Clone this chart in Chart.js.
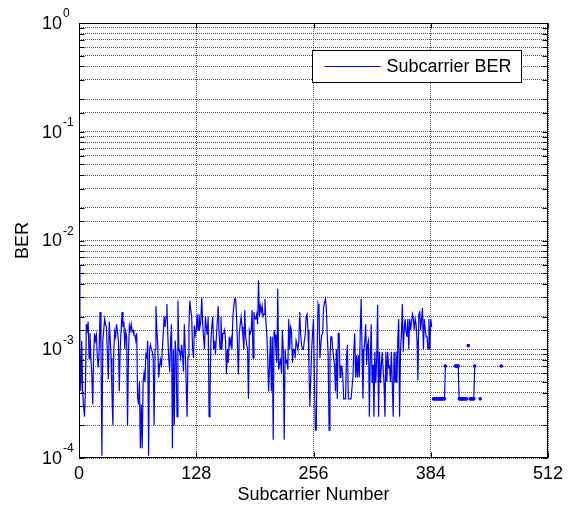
<!DOCTYPE html>
<html>
<head>
<meta charset="utf-8">
<title>Subcarrier BER</title>
<script src="https://cdn.jsdelivr.net/npm/chart.js@4.4.0/dist/chart.umd.min.js"></script>
<style>
    html, body { margin: 0; padding: 0; background: #fff; }
</style>
</head>
<body>
<canvas id="berChart" width="572" height="506"></canvas>
<script>
// x axis ticks (subcarrier index) and y axis decades
const xTicks = [0, 128, 256, 384, 512];
const yDecades = [1e-4, 1e-3, 1e-2, 1e-1, 1];
const yExponents = ['-4', '-3', '-2', '-1', '0'];
const seriesName = 'Subcarrier BER';
const xTitle = 'Subcarrier Number';
const yTitle = 'BER';

// BER per subcarrier, subcarriers 0..385
const berMain = [
    6.0e-3, 1.1e-3, 4.1e-4, 1.2e-3, 4.0e-4, 3.0e-4, 2.4e-4, 4.3e-4, 1.7e-3, 1.5e-3,
    1.8e-3, 8.3e-4, 1.4e-3, 8.0e-4, 6.0e-4, 3.1e-4, 9.0e-4, 1.4e-3, 1.2e-3, 1.35e-3,
    8.3e-4, 6.8e-4, 1.0e-3, 2.2e-3, 1.0e-3, 1.05e-4, 1.2e-3, 1.5e-3, 1.9e-3, 1.7e-3,
    1.6e-3, 9.0e-4, 5.3e-4, 1.8e-3, 1.3e-3, 8.3e-4, 4.0e-4, 2.0e-4, 1.0e-3, 1.45e-3,
    1.3e-3, 1.7e-3, 1.45e-3, 1.2e-3, 4.1e-4, 1.0e-3, 1.5e-3, 2.2e-3, 1.6e-3, 1.8e-3,
    1.0e-3, 1.45e-3, 1.3e-3, 2.0e-4, 9.0e-4, 1.65e-3, 1.5e-3, 1.7e-3, 1.45e-3, 1.5e-3,
    1.35e-3, 1.35e-3, 1.2e-3, 1.4e-3, 3.6e-4, 3.1e-4, 5.0e-4, 1.23e-4, 3.1e-4, 1.23e-4,
    5.0e-4, 6.0e-4, 5.0e-4, 9.0e-4, 8.5e-4, 1.2e-3, 1.05e-4, 1.0e-3, 1.1e-3, 1.0e-3,
    9.5e-4, 8.3e-4, 2.0e-4, 1.0e-3, 2.5e-3, 1.5e-3, 1.1e-3, 5.5e-4, 7.2e-4, 8.0e-4,
    6.8e-4, 1.0e-3, 1.4e-3, 2.0e-3, 1.6e-3, 2.0e-3, 2.6e-3, 1.3e-3, 8.0e-4, 6.2e-4,
    1.2e-3, 1.7e-3, 1.23e-4, 1.0e-3, 2.0e-4, 1.2e-3, 9.0e-4, 2.4e-4, 2.8e-3, 1.0e-3,
    9.5e-4, 8.3e-4, 1.1e-3, 9.0e-4, 6.2e-4, 1.7e-3, 1.0e-3, 5.0e-4, 2.4e-4, 8.5e-4,
    1.6e-3, 2.8e-3, 2.3e-3, 2.0e-3, 1.0e-3, 8.3e-4, 1.65e-3, 1.36e-3, 1.5e-3, 2.1e-3,
    1.5e-3, 2.1e-3, 1.6e-3, 1.8e-3, 3.0e-3, 1.7e-3, 1.3e-3, 1.0e-3, 2.0e-3, 1.6e-3,
    1.36e-3, 2.0e-3, 2.4e-4, 3.6e-4, 1.2e-3, 1.6e-3, 2.0e-3, 1.0e-3, 1.2e-3, 9.0e-4,
    1.3e-3, 1.8e-3, 2.5e-3, 1.36e-3, 1.0e-3, 2.0e-3, 1.0e-3, 1.4e-3, 1.4e-3, 1.5e-3,
    1.2e-3, 5.9e-4, 1.0e-3, 7.5e-4, 1.3e-3, 1.1e-3, 1.25e-3, 1.0e-3, 2.0e-3, 2.5e-3,
    2.9e-3, 2.9e-3, 2.0e-3, 1.1e-3, 5.9e-4, 1.4e-3, 1.7e-3, 2.0e-3, 1.6e-3, 1.3e-3,
    1.0e-3, 2.3e-3, 1.3e-3, 1.1e-3, 1.0e-3, 3.5e-4, 1.5e-3, 1.4e-3, 1.5e-3, 2.3e-3,
    8.3e-4, 2.2e-3, 1.9e-3, 1.9e-3, 2.1e-3, 1.7e-3, 4.3e-3, 2.0e-3, 2.5e-3, 2.2e-3,
    2.5e-3, 2.0e-3, 2.1e-3, 2.9e-3, 1.8e-3, 1.4e-3, 8.5e-4, 4.1e-4, 7.0e-4, 1.3e-3,
    4.1e-4, 1.3e-3, 1.47e-4, 1.5e-3, 1.35e-3, 1.0e-3, 7.5e-4, 3.6e-3, 6.5e-4, 7.5e-4,
    8.0e-4, 6.0e-4, 1.5e-3, 1.0e-3, 1.47e-4, 1.0e-3, 7.5e-4, 8.0e-4, 6.5e-4, 1.9e-3,
    1.0e-3, 1.6e-3, 1.5e-3, 7.5e-4, 1.0e-3, 1.0e-3, 8.3e-4, 1.2e-3, 1.1e-3, 1.0e-3,
    1.2e-3, 2.2e-3, 1.36e-3, 1.1e-3, 1.0e-3, 1.0e-3, 1.2e-3, 1.36e-3, 2.0e-3, 2.1e-3,
    1.5e-3, 7.2e-4, 3.0e-4, 5.5e-4, 1.0e-3, 1.4e-3, 1.9e-3, 5.5e-4, 1.8e-4, 1.8e-4,
    1.0e-3, 2.6e-3, 2.4e-3, 8.3e-4, 1.1e-3, 1.36e-3, 1.4e-3, 2.4e-3, 2.7e-3, 2.9e-3,
    2.4e-3, 1.36e-3, 9.0e-4, 1.8e-4, 8.3e-4, 1.3e-3, 1.3e-3, 1.0e-3, 8.3e-4, 7.2e-4,
    4.1e-4, 1.0e-3, 3.5e-4, 1.4e-3, 1.4e-3, 5.5e-4, 7.0e-4, 7.0e-4, 5.5e-4, 3.5e-4,
    3.5e-4, 3.5e-4, 8.3e-4, 1.1e-3, 3.5e-4, 3.5e-4, 3.5e-4, 3.5e-4, 3.5e-4, 5.5e-4,
    9.5e-4, 1.4e-3, 5.5e-4, 8.8e-4, 5.5e-4, 8.8e-4, 5.5e-4, 1.36e-3, 2.9e-3, 1.0e-3,
    3.5e-4, 9.5e-4, 1.2e-3, 1.7e-3, 7.2e-4, 1.1e-3, 1.2e-3, 2.4e-4, 8.3e-4, 1.7e-3,
    4.9e-4, 7.2e-4, 2.4e-4, 9.5e-4, 4.9e-4, 8.3e-4, 2.55e-3, 2.4e-4, 9.5e-4, 4.9e-4,
    7.0e-4, 9.5e-4, 6.5e-4, 5.0e-4, 2.4e-4, 9.5e-4, 5.0e-4, 9.5e-4, 6.8e-4, 7.0e-4,
    5.0e-4, 9.5e-4, 4.9e-4, 2.4e-4, 9.5e-4, 5.0e-4, 9.5e-4, 4.9e-4, 1.2e-3, 1.9e-3,
    2.4e-4, 1.0e-3, 1.4e-3, 2.6e-3, 9.5e-4, 1.5e-3, 1.9e-3, 1.45e-3, 1.3e-3, 1.9e-3,
    1.0e-3, 1.9e-3, 1.5e-3, 1.8e-3, 2.1e-3, 1.9e-3, 1.5e-3, 1.9e-3, 1.7e-3, 1.2e-3,
    5.2e-4, 2.1e-3, 2.2e-3, 1.5e-3, 1.9e-3, 2.4e-3, 1.0e-3, 1.9e-3, 1.5e-3, 1.3e-3,
    1.3e-3, 1.0e-3, 1.9e-3, 1.0e-3, 1.9e-3, 1.6e-3
];

// upper subcarriers: only a few have a nonzero BER
const tailIdx = [
    387, 388, 389, 390, 391, 392, 393, 394, 395, 396, 397, 398, 399, 400,
    411, 412, 413, 414, 415, 416, 417, 418, 419, 420, 421, 422, 423,
    425, 427, 428, 429, 430, 431, 432, 438, 461
];
const tailBer = [
    3.5e-4, 3.5e-4, 3.5e-4, 3.5e-4, 3.5e-4, 3.5e-4, 3.5e-4, 3.5e-4, 3.5e-4, 3.5e-4, 3.5e-4, 3.5e-4, 3.5e-4, 7.0e-4,
    7.0e-4, 7.0e-4, 7.0e-4, 7.0e-4, 3.5e-4, 3.5e-4, 3.5e-4, 3.5e-4, 3.5e-4, 3.5e-4, 3.5e-4, 3.5e-4, 3.5e-4,
    1.08e-3, 3.5e-4, 3.5e-4, 3.5e-4, 3.5e-4, 3.5e-4, 7.0e-4, 3.5e-4, 7.0e-4
];

const points = [];
for (let i = 0; i < 512; i++) {
    points.push({ x: i, y: i < berMain.length ? berMain[i] : null });
}
tailIdx.forEach((idx, k) => { points[idx].y = tailBer[k]; });

const font = '"Liberation Sans", Arial, sans-serif';

// box, inward ticks, 10^n labels, y title and legend drawn like MATLAB
const matlabAxes = {
    id: 'matlabAxes',
    afterDraw(chart) {
        const { ctx, chartArea: a, scales: { x, y } } = chart;
        const L = Math.round(a.left) + 0.5, R = Math.round(a.right) - 0.5;
        const T = Math.round(a.top) + 0.5, B = Math.round(a.bottom) - 0.5;
        ctx.save();
        ctx.strokeStyle = '#000';
        ctx.lineWidth = 1;
        ctx.beginPath();
        ctx.rect(L, T, R - L, B - T);
        y.ticks.forEach(t => {
            const py = Math.round(y.getPixelForValue(t.value)) + 0.5;
            ctx.moveTo(L, py); ctx.lineTo(L + 5, py);
            ctx.moveTo(R, py); ctx.lineTo(R - 5, py);
        });
        xTicks.forEach(v => {
            const px = Math.round(x.getPixelForValue(v)) + 0.5;
            ctx.moveTo(px, B); ctx.lineTo(px, B - 5);
            ctx.moveTo(px, T); ctx.lineTo(px, T + 5);
        });
        ctx.stroke();

        ctx.fillStyle = '#000';
        ctx.textBaseline = 'middle';
        yDecades.forEach((v, k) => {
            const py = y.getPixelForValue(v);
            ctx.font = '18px ' + font;
            ctx.textAlign = 'right';
            ctx.fillText('10', 62, py + 1);
            ctx.font = '12px ' + font;
            ctx.textAlign = 'left';
            ctx.fillText(yExponents[k], 63, py - 9);
        });

        ctx.font = '18px ' + font;
        ctx.textAlign = 'center';
        ctx.save();
        ctx.translate(23, (a.top + a.bottom) / 2);
        ctx.rotate(-Math.PI / 2);
        ctx.fillText(yTitle, 0, 0);
        ctx.restore();

        // legend box
        const bx = Math.round(a.right) - 235.5, by = Math.round(a.top) + 27.5;
        ctx.fillStyle = '#fff';
        ctx.fillRect(bx, by, 209, 32);
        ctx.strokeRect(bx, by, 209, 32);
        ctx.strokeStyle = '#0000ff';
        ctx.beginPath();
        ctx.moveTo(bx + 12, by + 16); ctx.lineTo(bx + 68, by + 16);
        ctx.stroke();
        ctx.fillStyle = '#000';
        ctx.textAlign = 'left';
        ctx.fillText(seriesName, bx + 74, by + 17);
        ctx.restore();
    }
};

new Chart(document.getElementById('berChart').getContext('2d'), {
    type: 'line',
    data: {
        datasets: [{
            label: seriesName,
            data: points,
            borderColor: '#0000ff',
            backgroundColor: '#0000ff',
            borderWidth: 1.2,
            tension: 0,
            spanGaps: false,
            pointRadius: ctx => ctx.dataIndex >= berMain.length ? 1.8 : 0,
            pointBorderWidth: 0,
            pointHoverRadius: 0
        }]
    },
    options: {
        responsive: false,
        animation: false,
        layout: { padding: { top: 23, right: 24, left: 0, bottom: 0 } },
        plugins: {
            legend: { display: false },
            tooltip: { enabled: false }
        },
        scales: {
            x: {
                type: 'linear',
                min: 0,
                max: 512,
                afterBuildTicks: scale => { scale.ticks = xTicks.map(v => ({ value: v })); },
                afterFit: scale => { scale.height = 48; },
                ticks: {
                    color: '#000',
                    font: { family: font, size: 18 },
                    padding: 5,
                    maxRotation: 0
                },
                grid: { color: '#555', drawTicks: false },
                border: { display: false, dash: [1, 1] },
                title: {
                    display: true,
                    text: xTitle,
                    color: '#000',
                    font: { family: font, size: 18 },
                    padding: 0
                }
            },
            y: {
                type: 'logarithmic',
                min: 1e-4,
                max: 1,
                afterFit: scale => { scale.width = 79; },
                ticks: { display: false, autoSkip: false },
                grid: { color: '#555', drawTicks: false },
                border: { display: false, dash: [1, 1] }
            }
        }
    },
    plugins: [matlabAxes]
});
</script>
</body>
</html>
